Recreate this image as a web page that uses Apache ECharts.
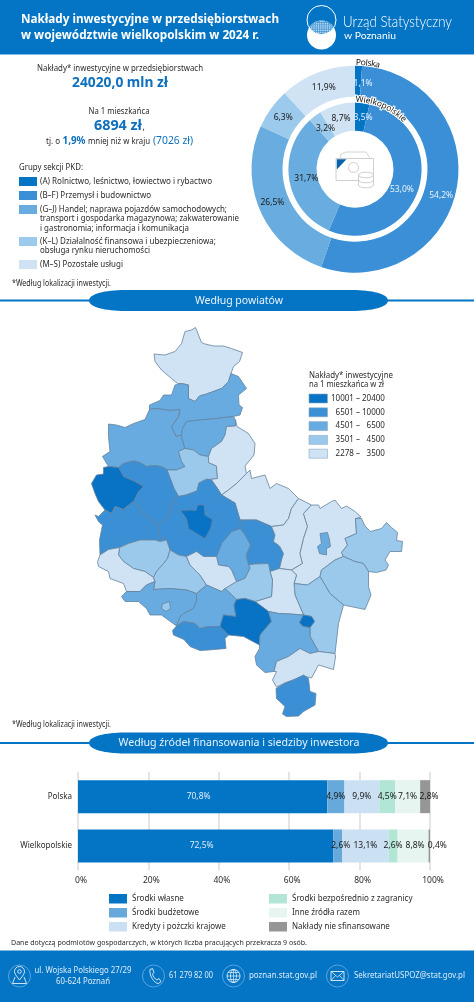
<!DOCTYPE html>
<html lang="pl"><head><meta charset="utf-8">
<style>html,body{margin:0;padding:0;background:#fff}#c{width:474px;height:1002px}</style>
<script src="https://cdn.jsdelivr.net/npm/echarts@6/dist/echarts.min.js"></script></head>
<body><div id="c"></div>
<script>
// ---- data ----
const pkdGroups = ['(A)','(B–F)','(G–J)','(K–L)','(M–S)'];
const pkdPolska = [1.1,54.2,26.5,6.3,11.9];
const pkdWielkopolskie = [3.5,53.0,31.7,3.2,8.7];
const sourceCategories = ['Polska','Wielkopolskie'];
const sourceNames = ['Środki własne','Środki budżetowe','Kredyty i pożczki krajowe','Środki bezpośrednio z zagranicy','Inne źródła razem','Nakłady nie sfinansowane'];
const srodkiWlasne = [70.8,72.5];
const srodkiBudzetowe = [4.9,2.6];
const kredyty = [9.9,13.1];
const zagranica = [4.5,2.6];
const inne = [7.1,8.8];
const nieSfinansowane = [2.8,0.4];
const classLabels = ['10001 – 20400','\u20076501 – 10000','\u20074501 – \u20076500','\u20073501 – \u20074500','\u20072278 – \u20073500'];
const classMin = [10001,6501,4501,3501,2278];
const classMax = [20400,10000,6500,4500,3500];
const powiatNames = ['złotowski','pilski','czarnkowsko-trzcianecki','wągrowiecki','obornicki','gnieźnieński','słupecki-pn','wrzesiński','słupecki','koniński','kolski','turecki','kaliski','pleszewski','jarociński','średzki','poznański','międzychodzki','szamotulski','nowotomyski','grodziski','wolsztyński','kościański','śremski','gostyński','leszczyński','rawicki','krotoszyński','ostrowski','kępiński','ostrzeszowski','Poznań','Konin','Leszno','Kalisz'];
const powiatValues = [3000,5500,5500,5500,4000,3000,3000,8000,3000,3000,4000,4000,4000,3000,4000,5500,8000,8000,12000,8000,4000,3000,4000,3000,5500,5500,8000,12000,5500,3000,8000,12000,5500,4000,12000];

// map outlines (geographic shapes for registerMap)
const powiatOutlines = [
[[195.5,327.5],[198.5,335],[201.5,342.5],[205,344],[214,346],[223.5,346],[231.5,348.5],[242.5,352.5],[239.5,361.5],[233.5,366.5],[231,373.5],[228.5,381.5],[221.5,388.5],[206.5,394],[199.5,396],[195,401.5],[188.5,398.5],[188.5,385],[181.5,383.5],[177.5,383.5],[171.5,378.5],[161.5,370],[155,361.5],[154,354],[165,355],[175,351.5],[181.5,343.5],[185,331.5],[191.5,330]],
[[231,373.5],[238.5,376.5],[246.5,388.5],[238.5,395],[239,405],[242.5,407.5],[240,415],[233.5,416.5],[216.5,418.5],[200,420],[186.5,421.5],[182.5,428.5],[181.5,435],[176,436.5],[171.5,426.5],[178.5,416.5],[180,409.5],[170,410.5],[156.5,408.5],[149.5,409.5],[149.5,405],[160,400.5],[163.5,395],[171.5,395],[175,385],[181.5,383.5],[188.5,385],[188.5,398.5],[195,401.5],[199.5,396],[206.5,394],[221.5,388.5],[228.5,381.5]],
[[108.5,424],[116.5,425],[125,427.5],[133.5,423.5],[145,419.5],[149.5,409.5],[156.5,408.5],[170,410.5],[180,409.5],[178.5,416.5],[171.5,426.5],[176,436.5],[181.5,435],[182.5,440],[185,448.5],[178.5,451.5],[181.5,461.5],[185,466.5],[176.5,470],[167.5,470],[161.5,466.5],[153.5,465.5],[146.5,466.5],[140,462.5],[133.5,461],[123.5,463.5],[118.5,467.5],[108.5,466.5],[102.5,456.5],[110,451.5],[108.5,436.5]],
[[233.5,416.5],[235.5,420],[235.5,426],[226.5,426.5],[225,435],[221.5,441.5],[211.5,448.5],[208.5,456.5],[200,455],[193.5,450],[185,448.5],[182.5,440],[181.5,435],[182.5,428.5],[186.5,421.5],[200,420],[216.5,418.5]],
[[185,448.5],[193.5,450],[200,455],[208.5,456.5],[208.5,462.5],[216.5,466],[217.5,478.5],[209.5,479.5],[205,480],[199,483],[197,491],[186,495],[178.5,496.5],[174,488.5],[167.5,471.5],[167.5,470],[176.5,470],[185,466.5],[181.5,461.5],[178.5,451.5]],
[[235.5,420],[237,426.5],[248.5,433.5],[255,443.5],[254,455],[245,466],[246.5,473.5],[236.5,483.5],[228.5,490],[221.5,495],[217.5,488.5],[211.5,480],[209.5,479.5],[217.5,478.5],[216.5,466],[208.5,462.5],[208.5,456.5],[211.5,448.5],[221.5,441.5],[225,435],[226.5,426.5],[235.5,426]],
[[221.5,495],[228.5,490],[236.5,483.5],[246.5,473.5],[250,470],[251.5,478.5],[265,475],[270,488.5],[276.5,483.5],[288.5,488.5],[298.5,498.5],[291.5,508.5],[288.5,518.5],[283.5,525],[271.5,526.5],[256.5,520],[240,520],[235,503]],
[[240,520],[256.5,520],[271.5,526.5],[275,535],[273.5,541.5],[279.5,546],[283.5,553.5],[281.5,560],[279.5,568.5],[270,571.5],[268.5,563.5],[255,564],[248.5,565],[246,555],[250.5,545],[245,535],[240,528.5]],
[[298.5,498.5],[311.5,505],[303.5,513.5],[307.5,526.5],[303.5,538.5],[300,553.5],[302.5,563.5],[291.5,570],[279.5,568.5],[281.5,560],[283.5,553.5],[279.5,546],[273.5,541.5],[275,535],[271.5,526.5],[283.5,525],[288.5,518.5],[291.5,508.5]],
[[311.5,505],[318.5,505],[320,508.5],[331.5,501.5],[335,500],[341.5,508.5],[346.5,506],[355,511.5],[361,517],[355.5,518.5],[356.5,533.5],[345,538.5],[347.5,545],[341.5,552.5],[343.5,556.5],[335,560],[321.5,570],[320,576.5],[307.5,585],[294,583.5],[296.5,575],[291.5,570],[302.5,563.5],[300,553.5],[303.5,538.5],[307.5,526.5],[303.5,513.5]],
[[355.5,518.5],[361.5,518.5],[365,526],[370.5,531.5],[381.5,528.5],[386.5,522.5],[391.5,527.5],[397.5,532.5],[396.5,540.5],[402.5,541.5],[401.5,551.5],[390,551.5],[385,560],[388.5,565],[386,570],[376.5,572.5],[368.5,571.5],[363.5,563.5],[355,561.5],[343.5,556.5],[341.5,552.5],[347.5,545],[345,538.5],[356.5,533.5]],
[[335,560],[343.5,556.5],[355,561.5],[363.5,563.5],[368.5,571.5],[368.5,586.5],[371,595],[365,609.5],[343.5,605],[330,593.5],[320,576.5],[321.5,570]],
[[294,583.5],[307.5,585],[320,576.5],[330,593.5],[343.5,605],[338.5,623.5],[335,653.5],[318.5,651.5],[310,636.5],[310,627.5],[314.5,621.5],[311.5,616.5],[303.5,615],[295,595]],
[[270,571.5],[279.5,568.5],[291.5,570],[296.5,575],[294,583.5],[295,595],[303.5,615],[290,614],[278.5,613.5],[268.5,611.5],[255,601.5],[271.5,596.5],[272.5,580]],
[[248.5,565],[255,564],[268.5,563.5],[270,571.5],[272.5,580],[271.5,596.5],[255,601.5],[245,598.5],[236.5,599.5],[225,588.5],[236.5,581.5],[245,578],[250,568]],
[[240,528.5],[245,535],[250.5,545],[246,555],[248.5,565],[250,568],[245,578],[236.5,581.5],[231.5,570],[228.5,566.5],[218.5,565],[216.5,556.5],[221.5,543.5],[231.5,531.5]],
[[207,479],[211.5,480],[217.5,488.5],[221.5,495],[235,503],[240,520],[240,528.5],[231.5,531.5],[221.5,543.5],[216.5,556.5],[203.5,556.5],[196.5,551.5],[186.5,556.5],[178.5,555],[170,550],[166.5,540],[158.5,536.5],[158.5,525],[168.5,516.5],[173.5,500],[178.5,496.5],[186,495],[197,491],[199,483]],
[[133.5,461],[140,462.5],[146.5,466.5],[153.5,465.5],[161.5,466.5],[167.5,470],[167.5,471.5],[174,488.5],[178.5,496.5],[173.5,500],[168.5,516.5],[158.5,525],[145,515],[133.5,501.5],[138.5,491.5],[143.5,486.5],[135,481.5],[123.5,476.5],[118.5,467.5],[123.5,463.5]],
[[103.5,467.5],[108.5,466.5],[118.5,467.5],[123.5,476.5],[135,481.5],[143.5,486.5],[138.5,491.5],[133.5,501.5],[130,504],[123.5,509.5],[115,506.5],[111.5,513.5],[105,510],[98.5,501.5],[95,493.5],[91.5,483.5],[96.5,475],[103.5,474]],
[[111.5,513.5],[115,506.5],[123.5,509.5],[130,504],[133.5,501.5],[145,515],[158.5,525],[158.5,536.5],[166.5,540],[160,541.5],[155,540],[140,540],[128.5,543.5],[119.5,547.5],[108.5,549.5],[100,555],[99.5,540],[102.5,525],[98.5,521.5],[95,515],[98.5,516.5],[105,510]],
[[119.5,547.5],[128.5,543.5],[140,540],[155,540],[160,541.5],[166.5,540],[170,550],[167.5,558.5],[163.5,563.5],[156.5,571.5],[153.5,577.5],[145,571.5],[133.5,568.5],[123.5,561.5],[118.5,555]],
[[100,555],[108.5,549.5],[119.5,547.5],[118.5,555],[123.5,561.5],[133.5,568.5],[145,571.5],[153.5,577.5],[155,581.5],[146.5,585],[140,591.5],[126.5,591.5],[123.5,583.5],[110,578.5],[108.5,571.5],[98.5,566.5],[97.5,561.5]],
[[170,550],[178.5,555],[186.5,556.5],[190,565],[196.5,571.5],[200,575],[206.5,585],[196.5,593.5],[186.5,590],[170,588.5],[153.5,589.5],[155,581.5],[153.5,577.5],[156.5,571.5],[163.5,563.5],[167.5,558.5]],
[[186.5,556.5],[196.5,551.5],[203.5,556.5],[216.5,556.5],[218.5,565],[228.5,566.5],[231.5,570],[236.5,581.5],[225,588.5],[221.5,591.5],[206.5,585],[200,575],[196.5,571.5],[190,565]],
[[196.5,593.5],[206.5,585],[221.5,591.5],[225,588.5],[236.5,599.5],[234,605],[236,616.5],[223.5,615],[220,626.5],[208.5,626.5],[200,628.5],[195,623.5],[183.5,621.5],[176.5,626],[180,616.5],[183.5,613.5],[193.5,608.5],[196.5,600]],
[[121.5,596.5],[126.5,591.5],[140,591.5],[146.5,585],[155,581.5],[153.5,589.5],[170,588.5],[186.5,590],[196.5,593.5],[196.5,600],[193.5,608.5],[183.5,613.5],[180,616.5],[176.5,626],[161.5,615],[150,615],[146.5,608.5],[138.5,601.5],[125,601.5]],
[[176.5,626],[183.5,621.5],[195,623.5],[200,628.5],[208.5,626.5],[220,626.5],[228.5,635],[225,638.5],[226,648.5],[208.5,650],[200,650.5],[190,646.5],[184,639.5],[173.5,635],[172.5,630.5]],
[[236.5,599.5],[245,598.5],[255,601.5],[268.5,611.5],[271.5,621.5],[260,635],[259.5,645],[250,640],[243.5,636.5],[228.5,635],[220,626.5],[223.5,615],[236,616.5],[234,605]],
[[268.5,611.5],[278.5,613.5],[290,614],[303.5,615],[299.5,622.5],[302.5,626],[310,627.5],[310,636.5],[318.5,651.5],[310,653.5],[300,648.5],[288.5,656.5],[276.5,661.5],[274,671.5],[265,672.5],[256.5,665],[255,656.5],[259.5,648.5],[259.5,645],[260,635],[271.5,621.5]],
[[300,648.5],[310,653.5],[318.5,651.5],[335,653.5],[335.5,657],[333.5,669.5],[318.5,665],[311.5,678],[303.5,676],[296.5,678.5],[285,683],[276.5,687],[272.5,680],[276.5,671.5],[274,671.5],[276.5,661.5],[288.5,656.5]],
[[285,683],[293.5,680],[303.5,675],[308.5,678.5],[310,691.5],[316,693.5],[315,705],[303.5,711.5],[298.5,716],[286.5,716.5],[282.5,714],[285,706.5],[276.5,698.5],[276,688.5]],
[[180.5,510.5],[190,510],[196,510.5],[197.5,505],[204,505],[205,515],[212.5,519.5],[210.5,528.5],[205,538.5],[196.5,533.5],[188.5,528.5],[186.5,518.5]],
[[320,533.5],[327.5,532.5],[329.5,540],[330.5,546.5],[326.5,548.5],[326.5,555],[319.5,553.5],[317.5,546.5],[321.5,543.5]],
[[162.5,604],[169.5,601.5],[170.5,608.5],[166,611.5],[161.5,608.5]],
[[303.5,615],[311.5,616.5],[314.5,621.5],[310,627.5],[302.5,626],[299.5,622.5]]
];

// ---- styles ----
const FONT='"Noto Sans"';
const BLUE='#0474c5', DARK='#2b2b2b', TXTBLUE='#0f70bd';
const PKD_COLORS=['#0474c5','#3a8fd6','#68ace0','#9ccaec','#cfe3f5'];
const MAP_COLORS=['#0872c4','#3b8fd5','#67abe0','#9bc9ec','#cfe3f5'];
const SRC_COLORS=['#0474c5','#68a9dc','#cbe0f3','#b3e5d6','#e6f5f0','#969696'];
const mc=document.createElement('canvas').getContext('2d');
const els=[];
function T(x,y,text,o={}){
  const s=o.s||8.5,w=o.b?'bold':(o.w||'normal');
  const font=`${w} ${s}px ${o.f||FONT}`;
  mc.font=font;const m=mc.measureText(text).width;
  const sx=o.W?o.W/m:1;
  els.push({type:'text',x,y,scaleX:sx,z:60,silent:true,style:{text,fill:o.c||DARK,font,align:o.a||'left',verticalAlign:'middle',stroke:o.st,lineWidth:o.lw||0}});
}
let pathId=0;
const P=(d,o={})=>{
  const name='pathShape'+(pathId++);
  echarts.graphic.registerShape(name,echarts.graphic.extendPath(d,{}));
  els.push({type:name,z:o.z||50,silent:true,shape:{},style:{fill:o.fill||'none',stroke:o.stroke||null,lineWidth:o.lw||1}});
};
const R=(x,y,w,h,fill,o={})=>els.push({type:'rect',z:o.z||40,silent:true,shape:{x,y,width:w,height:h},style:{fill,stroke:o.stroke||null,lineWidth:o.lw||0}});
const C=(cx,cy,r,o={})=>els.push({type:'circle',z:o.z||50,silent:true,shape:{cx,cy,r},style:{fill:o.fill||'none',stroke:o.stroke||null,lineWidth:o.lw||1}});
const E=(cx,cy,rx,ry,o={})=>P(`M${cx-rx},${cy} A${rx} ${ry} 0 1 1 ${cx+rx},${cy} A${rx} ${ry} 0 1 1 ${cx-rx},${cy} Z`,o);

// header
R(0,0,474,54.5,BLUE);
T(21,19.5,'Nakłady inwestycyjne w przedsiębiorstwach',{s:13,b:1,c:'#fff',W:258});
T(21,35,'w województwie wielkopolskim w 2024 r.',{s:13,b:1,c:'#fff',W:238});
C(321.5,35,14.5,{fill:'#fff'});
P('M309.1,27.5 A14.5 14.5 0 0 1 333.9,27.5 A14.5 14.5 0 0 1 309.1,27.5 Z',{fill:'#4a9ad8',z:51});
for(let yy=21.5;yy<35;yy+=1.8)for(let xx=309.5;xx<334;xx+=1.8){
  if(Math.hypot(xx-321.5,yy-20)<13.8&&Math.hypot(xx-321.5,yy-35)<13.8)C(xx,yy,.55,{fill:'#e8f3fb',z:51});
}
C(321.5,20,14.5,{stroke:'#fff',lw:1,z:52});
T(343,22,'Urząd Statystyczny',{s:15,c:'#fff',W:109,f:'Lato',w:'300'});
T(344,36,'w Poznaniu',{s:10,c:'#fff',W:52,f:'Lato'});

// left column
T(120,69,'Nakłady* inwestycyjne w przedsiębiorstwach',{s:8.5,a:'center',W:166});
T(120,83,'24020,0 mln zł',{s:15,b:1,c:TXTBLUE,a:'center',W:96});
T(119,112,'Na 1 mieszkańca',{s:8.5,a:'center',W:61});
T(94,125.5,'6894 zł',{s:15,b:1,c:TXTBLUE,W:48});
T(142.5,127,',',{s:9});
T(46,141.5,'tj. o',{s:8.5,W:14});
T(62.5,141,'1,9%',{s:10.5,b:1,c:TXTBLUE,W:23});
T(88,141.5,'mniej niż w kraju',{s:8.5,W:62});
T(153,141,'(7026 zł)',{s:11,c:TXTBLUE,W:40});
T(19,168,'Grupy sekcji PKD:',{s:8.5,W:64});
const pkdRows=[[177,['(A) Rolnictwo, leśnictwo, łowiectwo i rybactwo'],[172]],
 [191,['(B–F) Przemysł i budownictwo'],[111]],
 [205,['(G–J) Handel; naprawa pojazdów samochodowych;','transport i gospodarka magazynowa; zakwaterowanie','i gastronomia; informacja i komunikacja'],[187,199,149]],
 [237,['(K–L) Działalność finansowa i ubezpieczeniowa;','obsługa rynku nieruchomości'],[176,110]],
 [260,['(M–S) Pozostałe usługi'],[83]]];
pkdRows.forEach((r,i)=>{R(19,r[0],18,9,PKD_COLORS[i]);r[1].forEach((t,j)=>T(40,r[0]+4.3+j*9.4,t,{s:8.5,W:r[2][j]}));});
T(12,283.5,'*Według lokalizacji inwestycji.',{s:8,W:99});

// section pills
function pill(y,text,W){
  R(0,y-1,474,2,BLUE);
  P(`M89,${y} C89,${y-6.5} 105,${y-10.5} 125,${y-10.5} L352,${y-10.5} C372,${y-10.5} 388,${y-6.5} 388,${y} C388,${y+6.5} 372,${y+10.5} 352,${y+10.5} L125,${y+10.5} C105,${y+10.5} 89,${y+6.5} 89,${y} Z`,{fill:BLUE});
  T(239,y,text,{s:11.5,c:'#e8f3fb',a:'center',W});
}
pill(300.5,'Według powiatów',88);
pill(743,'Według źródeł finansowania i siedziby inwestora',241);

// donut curved labels
function curved(text,r,startDeg,endDeg,s,halo){
  mc.font=`${s}px ${FONT}`;
  const tot=mc.measureText(text).width;let acc=0;
  const span=(endDeg-startDeg);
  [...text].forEach(ch=>{
    const w=mc.measureText(ch).width;
    const a=(startDeg+span*(acc+w/2)/tot)*Math.PI/180;
    acc+=w;
    els.push({type:'text',x:355+r*Math.sin(a),y:169+(-r)*Math.cos(a),rotation:-a,z:70,silent:true,
      style:{text:ch,font:`${s}px ${FONT}`,fill:'#111',align:'center',verticalAlign:'middle',stroke:halo?'#fff':null,lineWidth:halo?2:0}});
  });
}
curved('Polska',106.5,0.6,13.5,8.5,false);
curved('Wielkopolskie',69.5,0.5,46,8.5,true);

// centre icon
const G='#c9c9c9';
P('M340,158.5 L341,154 L346,152 L366,152 L368,155 L370,158.5',{stroke:G,lw:.8});
R(336,158.5,37.5,22,'#fff',{stroke:G,lw:.9,z:50});
P('M336.8,159.3 L346.5,159.3 L336.8,169.5 Z',{fill:'#0a62ad',z:52});
C(353.5,167.5,5,{stroke:G,lw:.9,z:52});
R(358.5,175,15,10,'#fff',{z:53});
P('M358.5,175 V185 M373.5,175 V185',{stroke:G,lw:.9,z:54});
[185,180].forEach(y=>P(`M358.5,${y} A7.5 2.8 0 0 0 373.5,${y}`,{stroke:G,lw:.9,z:54}));
E(366,175,7.5,2.8,{fill:'#fff',stroke:G,lw:.9,z:55});

// map legend title and swatch outlines
T(309,375.5,'Nakłady* inwestycyjne',{s:8.5,W:84});
T(309,385,'na 1 mieszkańca w zł',{s:8.5,W:75});
classLabels.forEach((_,i)=>R(309,394+i*13.8,18.5,9,'none',{stroke:'#8ea9c0',lw:.6,z:60}));
T(12,724.5,'*Według lokalizacji inwestycji.',{s:8,W:99});
T(11,943,'Dane dotyczą podmiotów gospodarczych, w których liczba pracujących przekracza 9 osób.',{s:7.5,W:296});

// footer
R(0,950.5,474,51.5,BLUE);
const FC='#dcecf9';
[19.5,153.5,233.5,337.5].forEach(x=>C(x,976,11,{stroke:'#6fb0e2',lw:.8}));
T(83,971,'ul. Wojska Polskiego 27/29',{s:8.5,c:FC,a:'center',W:97});
T(83,982,'60-624 Poznań',{s:8.5,c:FC,a:'center',W:54});
T(169,976,'61 279 82 00',{s:8.5,c:FC,W:44});
T(249,976,'poznan.stat.gov.pl',{s:8.5,c:FC,W:68});
T(354,976,'SekretariatUSPOZ@stat.gov.pl',{s:8.5,c:FC,W:111});
// pin
P('M19.5,980 C16,975.5 14.5,973.5 14.5,971.5 A5 5 0 0 1 24.5,971.5 C24.5,973.5 23,975.5 19.5,980 Z',{stroke:'#fff',lw:.8});
C(19.5,971.5,1.8,{stroke:'#fff',lw:.8});
P('M15,977 L12.5,983.5 H26.5 L24,977',{stroke:'#fff',lw:.8});
// phone
P('M150,969.5 L152.5,968.5 L154,972.5 L152.5,974 C153,976.5 155,979 157,980 L159,978.5 L161,981.5 L158.5,983.5 C154,983.5 149,975 150,969.5 Z',{stroke:'#fff',lw:.8});
// globe
C(233.5,976,6.5,{stroke:'#fff',lw:.8});
E(233.5,976,3,6.5,{stroke:'#fff',lw:.7});
P('M227,976 H240 M228,972.5 H239 M228,979.5 H239 M233.5,969.5 V982.5',{stroke:'#fff',lw:.6});
// envelope
R(331,971.5,13,9,'none',{stroke:'#fff',lw:.8,z:50});
P('M331,971.5 L337.5,977 L344,971.5 M331,980.5 L335.5,975.5 M344,980.5 L339.5,975.5',{stroke:'#fff',lw:.7});

// map geometry via the library
echarts.registerMap('wlkp',{type:'FeatureCollection',features:powiatOutlines.map((ring,i)=>({
  type:'Feature',properties:{name:powiatNames[i]},
  geometry:{type:'Polygon',coordinates:[ring.concat([ring[0]]).map(p=>[p[0],-p[1]])]}
}))});

const pct=v=>String(v).includes('.')?String(v).replace('.',','):v.toFixed(1).replace('.',',');
const pieSeries=(vals,inner,outer,offsets)=>({
  type:'pie',silent:true,center:[355,169.2],radius:[inner,outer],startAngle:90,clockwise:true,animation:false,
  labelLine:{show:false},emphasis:{disabled:true},
  data:vals.map((v,i)=>({value:v,name:pkdGroups[i],itemStyle:{color:PKD_COLORS[i]},
    label:{show:true,position:'inside',fontFamily:FONT,fontSize:8.5,fontWeight:'normal',
      color:i<2?'#e8f3fb':'#1a1a1a',textBorderWidth:0,offset:offsets[i],formatter:pct(v)+'%'}}))
});
const srcSeries=[srodkiWlasne,srodkiBudzetowe,kredyty,zagranica,inne,nieSfinansowane];
const srcOffsets=[[[-4,0],[-4,0]],[[0,0],[3,0]],[[0,0],[0,0]],[[0,0],[0,0]],[[0,0],[2,0]],[[4,0],[8,0]]];

const option={
  animation:false,backgroundColor:'#fff',textStyle:{fontFamily:FONT},
  graphic:{elements:els},
  grid:{left:78,right:44,top:772,height:98.6,containLabel:false},
  xAxis:{type:'value',min:0,max:100,interval:20,
    axisLabel:{formatter:'{value}%',fontSize:8.5,color:DARK,fontFamily:FONT,margin:5,padding:[0,0,0,6]},
    axisLine:{show:false},axisTick:{show:false},
    splitLine:{show:true,lineStyle:{color:'#dcdcdc',width:1.5}}},
  yAxis:{type:'category',inverse:true,data:sourceCategories,
    axisLine:{show:false},axisTick:{show:false},
    axisLabel:{fontSize:8,color:DARK,fontFamily:FONT,margin:6}},
  legend:[
    {left:109,top:894,padding:0,orient:'vertical',itemWidth:18,itemHeight:9.5,itemGap:4.5,selectedMode:false,icon:'rect',
     data:sourceNames.slice(0,3),textStyle:{fontSize:8,color:DARK,fontFamily:FONT}},
    {left:269,top:894,padding:0,orient:'vertical',itemWidth:18,itemHeight:9.5,itemGap:4.5,selectedMode:false,icon:'rect',
     data:sourceNames.slice(3),textStyle:{fontSize:8,color:DARK,fontFamily:FONT}}
  ],
  visualMap:{type:'piecewise',seriesIndex:2,left:309,top:394,padding:0,orient:'vertical',itemWidth:18.5,itemHeight:9,itemGap:4.8,itemSymbol:'rect',
    textGap:3.5,align:'left',selectedMode:false,hoverLink:false,
    textStyle:{fontSize:8,color:DARK,fontFamily:FONT},
    pieces:classLabels.map((l,i)=>({min:classMin[i],max:classMax[i],label:l,color:MAP_COLORS[i]}))},
  series:[
    pieSeries(pkdPolska,72.5,103.5,[[5,5],[-3,8],[1,-2],[2,2],[2,3]]),
    pieSeries(pkdWielkopolskie,38.5,66.6,[[2,4],[-6,3],[6,0],[4,4],[1,3]]),
    {type:'map',map:'wlkp',silent:true,roam:false,aspectScale:1,left:91.5,top:327.5,width:311,height:389,showLegendSymbol:false,
     label:{show:false},emphasis:{disabled:true},select:{disabled:true},
     itemStyle:{borderColor:'#64839d',borderWidth:.8},
     data:powiatNames.map((n,i)=>({name:n,value:powiatValues[i]}))},
    ...srcSeries.map((vals,i)=>({type:'bar',name:sourceNames[i],stack:'s',barWidth:33,silent:true,
      itemStyle:{color:SRC_COLORS[i]},
      label:{show:true,position:'inside',fontSize:8.5,fontFamily:FONT,color:i===0?'#dcecf9':'#1a1a1a',textBorderWidth:0},
      data:vals.map((v,j)=>({value:v,label:{formatter:pct(v)+'%',offset:srcOffsets[i][j]}}))}))
  ]
};
echarts.init(document.getElementById('c'),null,{renderer:'canvas'}).setOption(option);
</script></body></html>
